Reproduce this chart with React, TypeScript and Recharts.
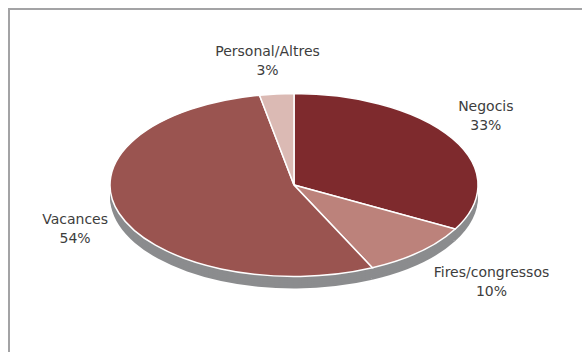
import React from "react";
import { PieChart, Pie, Cell } from "recharts";

const categories = ["Negocis", "Fires/congressos", "Vacances", "Personal/Altres"];
const shares = [33, 10, 54, 3];
const sliceColors = ["#7e2a2d", "#bc827b", "#9a5450", "#dbbab4"];
const depthSteps = [2, 4, 6, 8, 10, 12];

const CX = 294;
const CY = 185;
const R = 184;
const SQUASH = 0.497;

const data = categories.map((name, i) => ({ name, value: shares[i] }));

// squash the round pie into an ellipse; the depth layers are shifted down
const sectorCss = (cls: string, shift: number) =>
  `.${cls} .recharts-sector { transform-box: view-box; transform-origin: 0 0; transform: translate(0px, ${CY + shift}px) scale(1, ${SQUASH}) translate(0px, -${CY}px); vector-effect: non-scaling-stroke; }`;

const css = [sectorCss("pie-top", 0), ...depthSteps.map((d) => sectorCss(`pie-depth-${d}`, d))].join("\n");

const renderLabel = (props: any) => {
  const { midAngle, index } = props;
  const a = (midAngle * Math.PI) / 180;
  const dx = Math.cos(a);
  const dy = -Math.sin(a);
  const name = categories[index];
  const w = name.length * 8.1;
  const x = CX + 0.934 * R * dx + 0.9 * dx * w;
  const yc = CY + 150 * dy - 25 * dy * Math.abs(dy);
  return (
    <text
      x={x}
      y={yc - 4.5}
      textAnchor="middle"
      fill="#3d3d3d"
      fontSize={14}
      fontFamily="DejaVu Sans"
    >
      <tspan x={x}>{name}</tspan>
      <tspan x={x} dy={19}>
        {shares[index]}%
      </tspan>
    </text>
  );
};

export default function App() {
  return (
    <div
      style={{
        position: "absolute",
        left: 0,
        top: 0,
        width: 582,
        height: 352,
        overflow: "hidden",
        background: "#fff",
      }}
    >
      <style>{css}</style>
      <div
        style={{
          position: "absolute",
          left: 8,
          top: 8,
          width: 700,
          height: 500,
          border: "2px solid #a3a3a5",
        }}
      />
      <div style={{ position: "absolute", left: 0, top: 0 }}>
        <PieChart width={582} height={352} margin={{ top: 0, right: 0, bottom: 0, left: 0 }}>
          {depthSteps
            .slice()
            .reverse()
            .map((d) => (
              <Pie
                key={d}
                className={`pie-depth-${d}`}
                data={data}
                dataKey="value"
                cx={CX}
                cy={CY}
                outerRadius={R}
                startAngle={90}
                endAngle={-270}
                fill="#8b8c8e"
                stroke="none"
                isAnimationActive={false}
              />
            ))}
          <Pie
            className="pie-top"
            data={data}
            dataKey="value"
            cx={CX}
            cy={CY}
            outerRadius={R}
            startAngle={90}
            endAngle={-270}
            stroke="#ffffff"
            strokeWidth={1.5}
            label={renderLabel}
            labelLine={false}
            isAnimationActive={false}
          >
            {data.map((d, i) => (
              <Cell key={d.name} fill={sliceColors[i]} />
            ))}
          </Pie>
        </PieChart>
      </div>
    </div>
  );
}
